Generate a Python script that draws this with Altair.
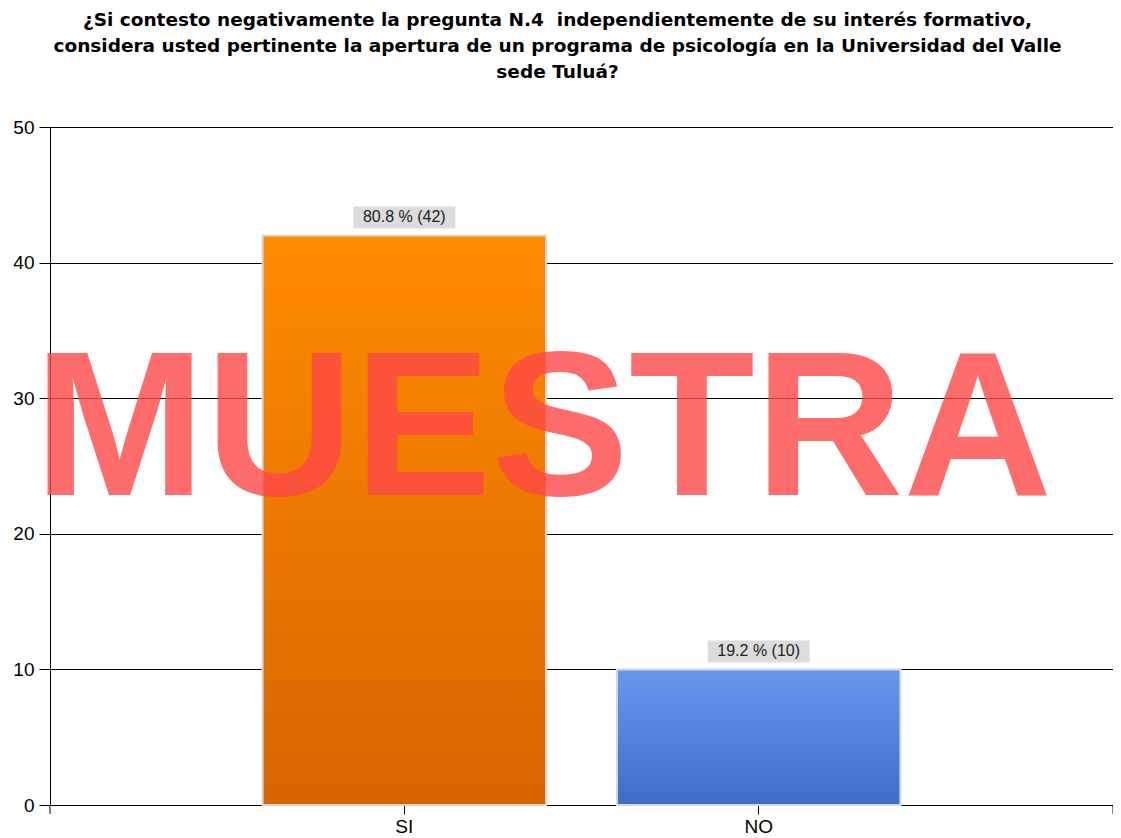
import altair as alt
import pandas as pd

categories = ["SI", "NO"]
counts = [42, 10]
percents = [80.8, 19.2]
labels = [f"{p} % ({c})" for p, c in zip(percents, counts)]

df = pd.DataFrame({"cat": categories, "count": counts, "label": labels})

W, H = 1063, 678
FONT = "Liberation Sans"

xenc = alt.X("cat:N", sort=categories,
             scale=alt.Scale(domain=categories, paddingInner=0.2, paddingOuter=0.6),
             axis=alt.Axis(title=None, labelAngle=0, labelFontSize=19, labelFont=FONT,
                           labelColor="#000", domainColor="#000", tickColor="#000",
                           tickSize=9, labelPadding=3, grid=False))
yenc = alt.Y("count:Q", scale=alt.Scale(domain=[0, 50], nice=False),
             axis=alt.Axis(title=None, values=[0, 10, 20, 30, 40, 50], labelFontSize=19,
                           labelFont=FONT, labelColor="#000", domainColor="#000",
                           tickColor="#000", tickSize=11, labelPadding=5,
                           grid=True, gridColor="#000", gridOpacity=1, gridWidth=1))

base = alt.Chart(df)

def grad(top, bottom):
    return alt.LinearGradient(gradient="linear",
                              stops=[alt.GradientStop(color=bottom, offset=0),
                                     alt.GradientStop(color=top, offset=1)],
                              x1=1, x2=1, y1=1, y2=0)

bar_si = base.transform_filter(alt.datum.cat == "SI").mark_bar(
    color=grad("#FF8C00", "#D96400"), stroke="#D8D8D8", strokeWidth=2
).encode(x=xenc, y=yenc)
bar_no = base.transform_filter(alt.datum.cat == "NO").mark_bar(
    color=grad("#6897EE", "#3F6DC6"), stroke="#D8D8D8", strokeWidth=2
).encode(x=xenc, y=yenc)

box = base.mark_point(
    shape="M-1,-0.2157L1,-0.2157L1,0.2157L-1,0.2157Z", size=102 * 102,
    filled=True, color="#DCDCDC", opacity=1, yOffset=-18
).encode(x=xenc, y=yenc)

txt = base.mark_text(fontSize=16, font=FONT, color="#222", yOffset=-18,
                     baseline="middle").encode(x=xenc, y=yenc, text="label:N")

one = alt.Chart(pd.DataFrame({"v": [0]}))
tick_l = one.mark_rule(color="#000").encode(x=alt.value(0), y=alt.value(H), y2=alt.value(H + 9))
tick_r = one.mark_rule(color="#000").encode(x=alt.value(W), y=alt.value(H), y2=alt.value(H + 9))

water = alt.Chart(pd.DataFrame({"t": ["MUESTRA"]})).mark_text(
    fontSize=206, font=FONT, fontWeight="bold", color="#FF4848", opacity=0.8,
    baseline="alphabetic", align="center"
).encode(x=alt.value(493), y=alt.value(368), text="t:N")

chart = alt.layer(bar_si, bar_no, box, txt, tick_l, tick_r, water).properties(
    width=W, height=H,
    title=alt.TitleParams(
        ["¿Si contesto negativamente la pregunta N.4\u00a0 independientemente de su interés formativo,",
         "considera usted pertinente la apertura de un programa de psicología en la Universidad del Valle",
         "sede Tuluá?"],
        fontSize=18.5, font="DejaVu Sans", fontWeight="bold", color="#000", anchor="middle",
        offset=37, lineHeight=26, dx=-24),
    autosize=alt.AutoSizeParams(type="none"),
    padding={"left": 42, "top": 119, "right": 0, "bottom": 30},
).configure_view(stroke=None)

chart.save("out.html", embed_options={"renderer": "svg", "actions": False})
